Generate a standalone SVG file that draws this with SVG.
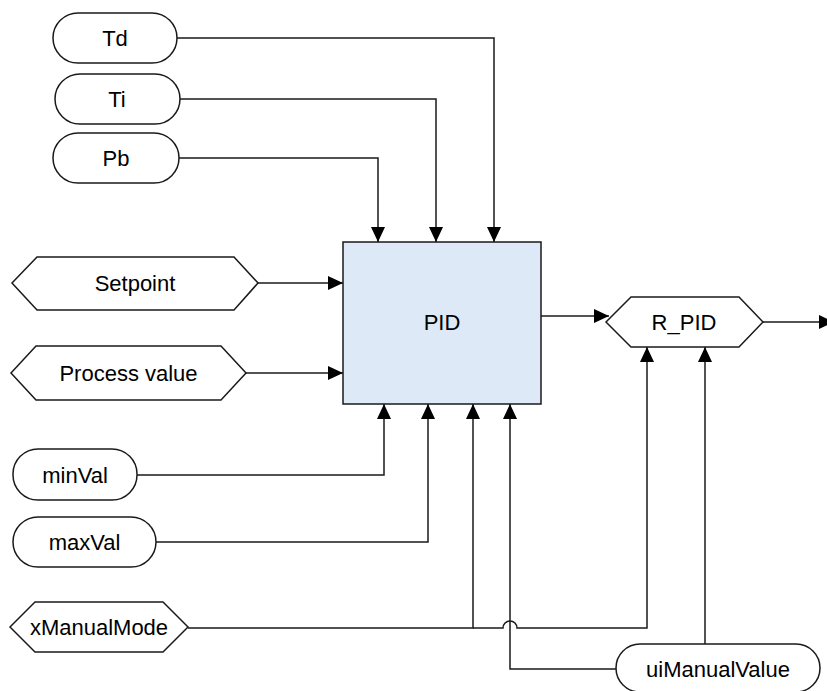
<svg xmlns="http://www.w3.org/2000/svg" width="827" height="691" viewBox="0 0 827 691">
<style>
.n{fill:#ffffff;stroke:#1a1a1a;stroke-width:1.5}
.b{fill:#dde9f6;stroke:#1a1a1a;stroke-width:1.5}
.t{font-family:"Liberation Sans",Arial,sans-serif;font-size:22px;fill:#000;text-anchor:middle}
.c{fill:none;stroke:#1a1a1a;stroke-width:1.5;marker-end:url(#ah)}
.l{fill:none;stroke:#1a1a1a;stroke-width:1.5}
</style>
<defs>
<marker id="ah" viewBox="0 0 15 14" refX="15" refY="7" markerWidth="15" markerHeight="14" markerUnits="userSpaceOnUse" orient="auto">
<path d="M0,0 L15,7 L0,14 z" fill="#000"/>
</marker>
</defs>
<rect width="827" height="691" fill="#ffffff"/>
<g id="connectors">
<path class="c" d="M177,38 H494 V242"/>
<path class="c" d="M180,99 H436 V242"/>
<path class="c" d="M179,158 H378 V242"/>
<path class="c" d="M258,283 H343"/>
<path class="c" d="M246,373 H343"/>
<path class="c" d="M541,316 H609"/>
<path class="c" d="M763,322 H834"/>
<path class="c" d="M137,475 H384 V404"/>
<path class="c" d="M156,542 H428 V404"/>
<path class="c" d="M188,628 H473 V404"/>
<path class="c" d="M473,628 H503 A7,7 0 0 1 517,628 H647 V347"/>
<path class="c" d="M616,669 H510 V404"/>
<path class="c" d="M705,644 V347"/>
</g>
<g id="Td"><rect class="n" x="53" y="13" width="124" height="50" rx="25"/><text class="t" x="115" y="46">Td</text></g>
<g id="Ti"><rect class="n" x="55" y="74" width="125" height="50" rx="25"/><text class="t" x="117" y="107">Ti</text></g>
<g id="Pb"><rect class="n" x="53" y="133" width="126" height="50" rx="25"/><text class="t" x="116" y="166">Pb</text></g>
<g id="Setpoint"><polygon class="n" points="12,283 37,257 234,257 258,283 234,310 37,310"/><text class="t" x="135" y="291">Setpoint</text></g>
<g id="ProcessValue"><polygon class="n" points="11,373 36,346 221,346 246,373 221,400 36,400"/><text class="t" x="128.5" y="381">Process value</text></g>
<g id="PID"><rect class="b" x="343" y="242" width="198" height="162"/><text class="t" x="442" y="330">PID</text></g>
<g id="R_PID"><polygon class="n" points="606,322 631,297 739,297 763,322 739,347 631,347"/><text class="t" x="684" y="330">R_PID</text></g>
<g id="minVal"><rect class="n" x="13" y="449" width="124" height="51" rx="25"/><text class="t" x="75" y="483">minVal</text></g>
<g id="maxVal"><rect class="n" x="13" y="517" width="143" height="50" rx="25"/><text class="t" x="84.5" y="550">maxVal</text></g>
<g id="xManualMode"><polygon class="n" points="10,627 35,602 163,602 188,627 163,652 35,652"/><text class="t" x="99" y="635">xManualMode</text></g>
<g id="uiManualValue"><rect class="n" x="616" y="644" width="204" height="48" rx="24"/><text class="t" x="718" y="677">uiManualValue</text></g>
</svg>
